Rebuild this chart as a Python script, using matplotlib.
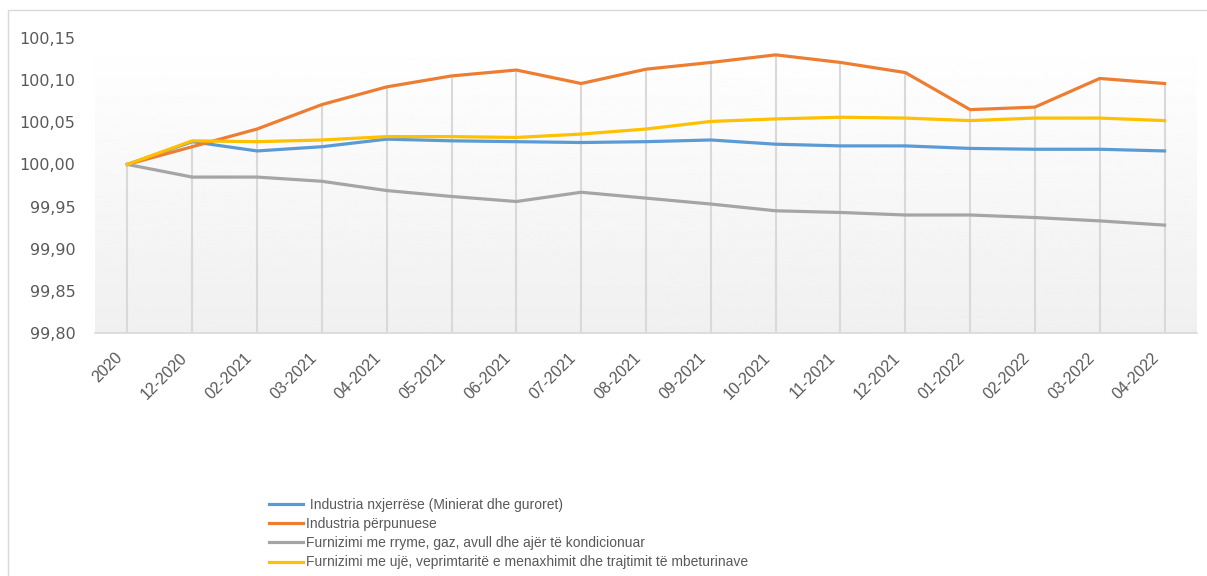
import matplotlib.pyplot as plt
import matplotlib.patches as patches
import numpy as np

# categories and series
months = ["2020", "12-2020", "02-2021", "03-2021", "04-2021", "05-2021", "06-2021",
          "07-2021", "08-2021", "09-2021", "10-2021", "11-2021", "12-2021",
          "01-2022", "02-2022", "03-2022", "04-2022"]

nxjerrese = [100.000, 100.027, 100.016, 100.021, 100.030, 100.028, 100.027, 100.026, 100.027,
             100.029, 100.024, 100.022, 100.022, 100.019, 100.018, 100.018, 100.016]
perpunuese = [100.000, 100.021, 100.042, 100.071, 100.092, 100.105, 100.112, 100.096, 100.113,
              100.121, 100.130, 100.121, 100.109, 100.065, 100.068, 100.102, 100.096]
rryme = [100.000, 99.985, 99.985, 99.980, 99.969, 99.962, 99.956, 99.967, 99.960,
         99.953, 99.945, 99.943, 99.940, 99.940, 99.937, 99.933, 99.928]
uje = [100.000, 100.028, 100.027, 100.029, 100.033, 100.033, 100.032, 100.036, 100.042,
       100.051, 100.054, 100.056, 100.055, 100.052, 100.055, 100.055, 100.052]

labels = [" Industria nxjerrëse (Minierat dhe guroret)",
          "Industria përpunuese",
          "Furnizimi me rryme, gaz, avull dhe ajër të kondicionuar",
          "Furnizimi me ujë, veprimtaritë e menaxhimit dhe trajtimit të mbeturinave"]
colors = ["#5B9BD5", "#ED7D31", "#A5A5A5", "#FFC000"]
yticks = [99.80, 99.85, 99.90, 99.95, 100.00, 100.05, 100.10, 100.15]

fig = plt.figure(figsize=(12.07, 5.76), dpi=100)
ax = fig.add_axes([95 / 1207, 1 - 333 / 576, (1197 - 95) / 1207, (333 - 38) / 576])

# chart border
fig.patches.append(patches.Rectangle((8 / 1207, -0.01), 1.0, 1 - 10 / 576 + 0.01,
                                     transform=fig.transFigure, fill=False,
                                     edgecolor="#d9d9d9", linewidth=1))

x = np.arange(len(months))
ax.set_xlim(-0.5, len(months) - 0.5)
ax.set_ylim(99.80, 100.15)

# gradient plot area
grad = np.linspace(1.0, 0.94, 256).reshape(-1, 1)
ax.imshow(grad, cmap="gray", vmin=0, vmax=1, aspect="auto",
          extent=[0, 1, 0, 1], transform=ax.transAxes, zorder=0)

# drop lines
top = np.max([nxjerrese, perpunuese, rryme, uje], axis=0)
ax.vlines(x, 99.80, top, color="#d9d9d9", linewidth=1.5, zorder=1)

series = [nxjerrese, perpunuese, rryme, uje]
for s, c, lab in zip(series, colors, labels):
    ax.plot(x, s, color=c, linewidth=2.3, label=lab, zorder=3)

ax.set_yticks(yticks)
ax.set_yticklabels([f"{v:.2f}".replace(".", ",") for v in yticks],
                   fontsize=11.5, color="#595959")
ax.set_xticks(x)
ax.set_xticklabels([])
# rotated category labels, slightly left of each tick like the Excel original
for xi, m in zip(x, months):
    ax.annotate(m, xy=(xi, 0), xycoords=ax.get_xaxis_transform(),
                xytext=(-13, -17), textcoords="offset pixels",
                rotation=45, ha="right", va="top", rotation_mode="anchor",
                fontsize=11.5, color="#595959", family="Liberation Sans",
                annotation_clip=False)
ax.tick_params(axis="both", length=0)
ax.tick_params(axis="y", pad=14)

for sp in ["top", "right", "left"]:
    ax.spines[sp].set_visible(False)
ax.spines["bottom"].set_color("#d9d9d9")
ax.spines["bottom"].set_linewidth(1.2)

leg = fig.legend(loc="upper left", bbox_to_anchor=(262 / 1207, 1 - 491 / 576),
                 frameon=False, handlelength=2.45, handletextpad=0.2,
                 labelspacing=0.37, borderpad=0,
                 prop={"family": "Liberation Sans", "size": 10})
for t in leg.get_texts():
    t.set_color("#595959")

fig.savefig("out.png", dpi=100)
